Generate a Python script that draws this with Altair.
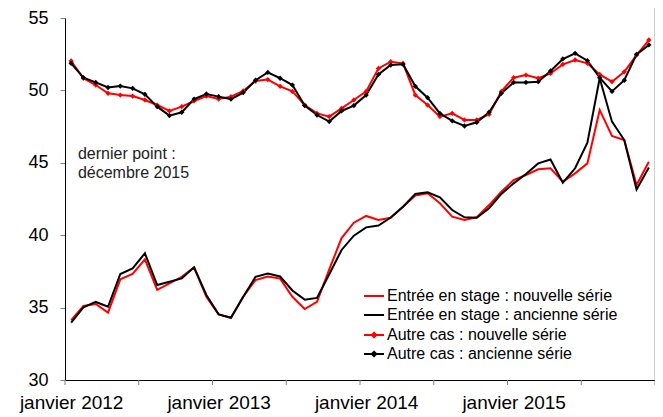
import altair as alt
import pandas as pd

months = list(range(48))
entree_nouvelle = [34.14, 35.11, 35.25, 34.65, 36.95, 37.32, 38.33, 36.22, 36.67, 37.13, 37.78, 35.75,
                   34.53, 34.30, 35.75, 36.90, 37.15, 37.00, 35.75, 34.90, 35.40, 37.64, 39.80, 40.86,
                   41.33, 41.05, 41.20, 41.97, 42.74, 42.90, 42.20, 41.28, 41.05, 41.24, 42.08, 43.00,
                   43.81, 44.16, 44.55, 44.62, 43.70, 44.27, 44.96, 48.65, 46.85, 46.57, 43.47, 45.07]
entree_ancienne = [33.96, 35.02, 35.39, 35.06, 37.32, 37.71, 38.75, 36.56, 36.79, 37.02, 37.78, 35.87,
                   34.53, 34.30, 35.75, 37.13, 37.35, 37.15, 36.18, 35.55, 35.67, 37.30, 38.98, 39.97,
                   40.54, 40.67, 41.22, 41.97, 42.85, 42.96, 42.61, 41.74, 41.24, 41.21, 41.86, 42.85,
                   43.58, 44.23, 44.96, 45.23, 43.63, 44.62, 46.39, 50.84, 47.84, 46.57, 43.16, 44.68]
autre_nouvelle = [52.03, 50.84, 50.37, 49.80, 49.68, 49.61, 49.34, 48.99, 48.58, 48.88, 49.27, 49.61,
                  49.40, 49.57, 49.96, 50.65, 50.75, 50.28, 49.93, 48.99, 48.41, 48.19, 48.76, 49.34,
                  49.93, 51.52, 51.98, 51.87, 49.68, 48.99, 48.19, 48.42, 47.96, 47.96, 48.35, 49.93,
                  50.88, 51.06, 50.84, 51.17, 51.80, 52.10, 51.87, 51.10, 50.60, 51.28, 52.44, 53.48]
autre_ancienne = [51.87, 50.88, 50.55, 50.20, 50.30, 50.14, 49.73, 48.88, 48.26, 48.49, 49.40, 49.75,
                  49.57, 49.40, 49.85, 50.70, 51.24, 50.84, 50.37, 48.95, 48.30, 47.85, 48.58, 48.95,
                  49.68, 51.10, 51.75, 51.80, 50.28, 49.50, 48.41, 47.90, 47.54, 47.80, 48.49, 49.80,
                  50.55, 50.55, 50.60, 51.34, 52.17, 52.56, 52.05, 50.88, 49.93, 50.70, 52.49, 53.14]

label_months = [0, 12, 24, 36]
tick_months = [-0.5 + 6 * k for k in range(9)]
y_ticks = [30, 35, 40, 45, 50, 55]

s_en = "Entrée en stage : nouvelle série"
s_ea = "Entrée en stage : ancienne série"
s_an = "Autre cas : nouvelle série"
s_aa = "Autre cas : ancienne série"

entree_df = pd.DataFrame({
    "m": months + months,
    "v": entree_nouvelle + entree_ancienne,
    "s": [s_en] * 48 + [s_ea] * 48,
})
autre_df = pd.DataFrame({
    "m": months + months,
    "v": autre_nouvelle + autre_ancienne,
    "s": [s_an] * 48 + [s_aa] * 48,
})
ticks_df = pd.DataFrame({"m": tick_months})
border_df = pd.DataFrame({"m": [47.5]})
note_df = pd.DataFrame({"m": [0.55], "v": [45.27], "t": ["dernier point :\ndécembre 2015"]})

RED = "#ff0000"
BLACK = "#000000"

x_scale = alt.Scale(domain=[-0.5, 47.5], nice=False, zero=False)
x_axis = alt.Axis(values=label_months, labelExpr="'janvier ' + (2012 + datum.value / 12)",
                  ticks=False, grid=False, domainColor=BLACK, domainWidth=1,
                  labelFontSize=19, labelColor=BLACK, labelPadding=13, labelFlush=False,
                  labelOverlap=False)
y_scale = alt.Scale(domain=[30, 55], nice=False, zero=False)
y_axis = alt.Axis(values=y_ticks, grid=False, tickSize=5, tickColor="#808080",
                  domainColor=BLACK, domainWidth=1, labelFontSize=18, labelColor=BLACK,
                  labelPadding=12)

X = alt.X("m:Q", scale=x_scale, axis=x_axis, title=None)
Y = alt.Y("v:Q", scale=y_scale, axis=y_axis, title=None)

leg_common = dict(title=None, orient="none", labelFontSize=16, labelColor=BLACK,
                  labelFont="Liberation Sans", symbolSize=400, symbolStrokeWidth=2,
                  rowPadding=0, labelOffset=2, padding=0, labelLimit=400, legendX=298)

entree_lines = alt.Chart(entree_df).mark_line(strokeWidth=2).encode(
    x=X, y=Y,
    color=alt.Color("s:N", scale=alt.Scale(domain=[s_en, s_ea], range=[RED, BLACK]),
                    legend=alt.Legend(symbolType="stroke", legendY=267, **leg_common)),
    order=alt.Order("m:Q"),
)

autre_lines = alt.Chart(autre_df).mark_line(strokeWidth=2).encode(
    x=X, y=Y,
    stroke=alt.Stroke("s:N", scale=alt.Scale(domain=[s_an, s_aa], range=[RED, BLACK]),
                      legend=alt.Legend(symbolType="M-1,0H1M0,-0.22L0.22,0L0,0.22L-0.22,0Z",
                                        legendY=306, **leg_common)),
    order=alt.Order("m:Q"),
)

autre_points = alt.Chart(autre_df).mark_point(shape="diamond", filled=True, size=28, opacity=1).encode(
    x=X, y=Y,
    fill=alt.Fill("s:N", scale=alt.Scale(domain=[s_an, s_aa], range=[RED, BLACK]), legend=None),
)

tick_marks = alt.Chart(ticks_df).mark_rule(color="#808080", strokeWidth=1).encode(
    x=X, y=alt.value(362), y2=alt.value(367)
)

border = alt.Chart(border_df).mark_rule(color="#a0a0a0", strokeWidth=1).encode(
    x=X, y=alt.value(-10), y2=alt.value(362)
)

note = alt.Chart(note_df).mark_text(align="left", baseline="alphabetic", fontSize=16,
                                    lineBreak="\n", lineHeight=19, color="#222222").encode(
    x=X, y=Y, text="t:N"
)

chart = alt.layer(border, tick_marks, entree_lines, autre_lines, autre_points, note).resolve_scale(
    color="independent", stroke="independent", fill="independent"
).properties(
    width=590, height=362,
    autosize=alt.AutoSizeParams(type="none"),
    padding={"left": 57, "top": 10, "right": 0, "bottom": 37},
).configure(font="Liberation Sans").configure_view(stroke=None)

chart.save("out.html", embed_options={"renderer": "svg", "actions": False})
